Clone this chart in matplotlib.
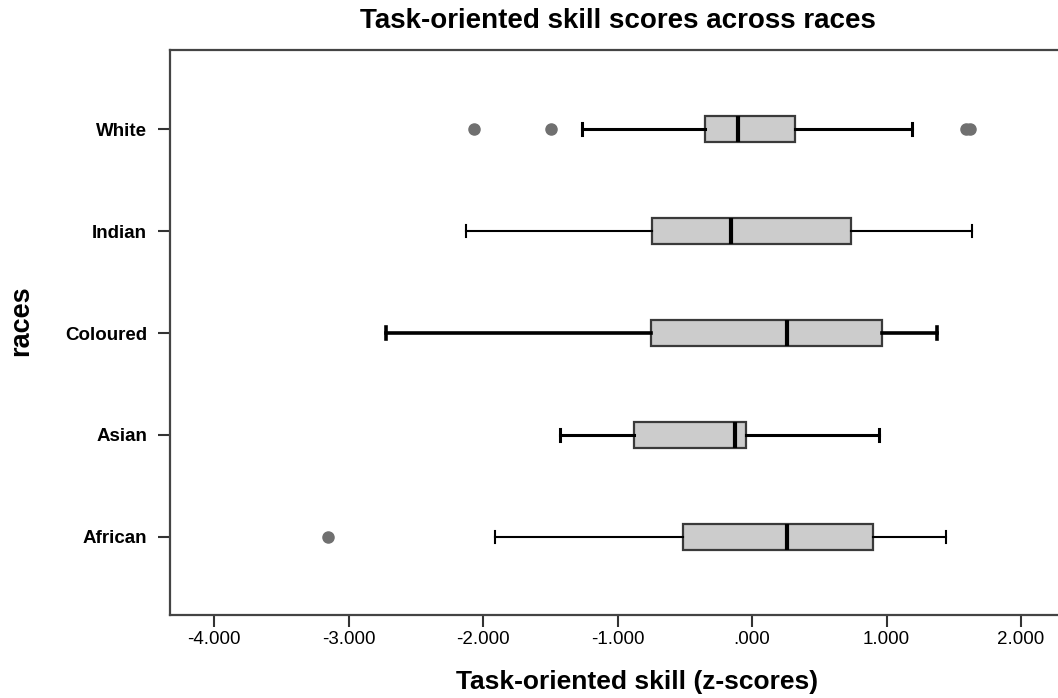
import matplotlib
matplotlib.use('Agg')
import matplotlib.pyplot as plt

plt.rcParams['font.family'] = ['Liberation Sans', 'DejaVu Sans']

# Data (z-scores), top row first
races = ['White', 'Indian', 'Coloured', 'Asian', 'African']
whisker_low = [-1.265, -2.125, -2.722, -1.431, -1.912]
q1 = [-0.349, -0.741, -0.751, -0.881, -0.515]
median = [-0.101, -0.157, 0.258, -0.126, 0.258]
q3 = [0.316, 0.738, 0.964, -0.045, 0.900]
whisker_high = [1.190, 1.633, 1.377, 0.944, 1.442]
outliers = [[-2.070, -1.495, 1.590, 1.620], [], [], [], [-3.156]]

x_ticks = [-4, -3, -2, -1, 0, 1, 2]
x_tick_labels = ['-4.000', '-3.000', '-2.000', '-1.000', '.000', '1.000', '2.000']

# whisker line weight differs a bit per row in the original
whisker_lw = [2.2, 1.5, 2.6, 2.2, 1.5]

# Build stats for bxp
stats = []
for i, name in enumerate(races):
    stats.append({
        'label': name,
        'whislo': whisker_low[i],
        'q1': q1[i],
        'med': median[i],
        'q3': q3[i],
        'whishi': whisker_high[i],
        'fliers': outliers[i],
    })

positions = list(range(len(races), 0, -1))

fig = plt.figure(figsize=(10.58, 6.98), dpi=100)
ax = fig.add_axes([0.1607, 0.1196, 1 - 0.1607, 0.9284 - 0.1196])

parts = ax.bxp(
    stats,
    positions=positions,
    widths=0.255,
    orientation='horizontal',
    patch_artist=True,
    boxprops=dict(facecolor='#cccccc', edgecolor='#3a3a3a', linewidth=1.6),
    medianprops=dict(color='black', linewidth=3.0, solid_capstyle='butt'),
    whiskerprops=dict(color='black', linewidth=2.0),
    capprops=dict(color='black', linewidth=2.0),
    capwidths=0.12,
    flierprops=dict(marker='o', markerfacecolor='#707070', markeredgecolor='#707070',
                    markersize=8),
)

for i, lw in enumerate(whisker_lw):
    for line in parts['whiskers'][2 * i:2 * i + 2]:
        line.set_linewidth(lw)
    for line in parts['caps'][2 * i:2 * i + 2]:
        line.set_linewidth(lw)

ax.set_xlim(-4.327, 2.275)
ax.set_ylim(0.235, 5.78)

ax.set_xticks(x_ticks)
ax.set_xticklabels(x_tick_labels, fontsize=13.5)
ax.set_yticks(positions)
ax.set_yticklabels(races, fontsize=13.5, fontweight='bold')

ax.tick_params(axis='both', direction='out', length=8.5, width=1.5, color='#333333')
ax.tick_params(axis='y', pad=8)
ax.tick_params(axis='x', pad=3.5)

for side in ['left', 'top', 'bottom']:
    ax.spines[side].set_color('#444444')
    ax.spines[side].set_linewidth(1.6)
ax.spines['right'].set_visible(False)

fig.text(0.584, 0.9599, 'Task-oriented skill scores across races',
         ha='center', va='baseline', fontsize=20, fontweight='bold')
fig.text(0.602, 0.0129, 'Task-oriented skill (z-scores)',
         ha='center', va='baseline', fontsize=19, fontweight='bold')
fig.text(0.0198, 0.540, 'races', rotation=90,
         ha='center', va='center', fontsize=19.5, fontweight='bold')

fig.savefig('out.png', dpi=100)
